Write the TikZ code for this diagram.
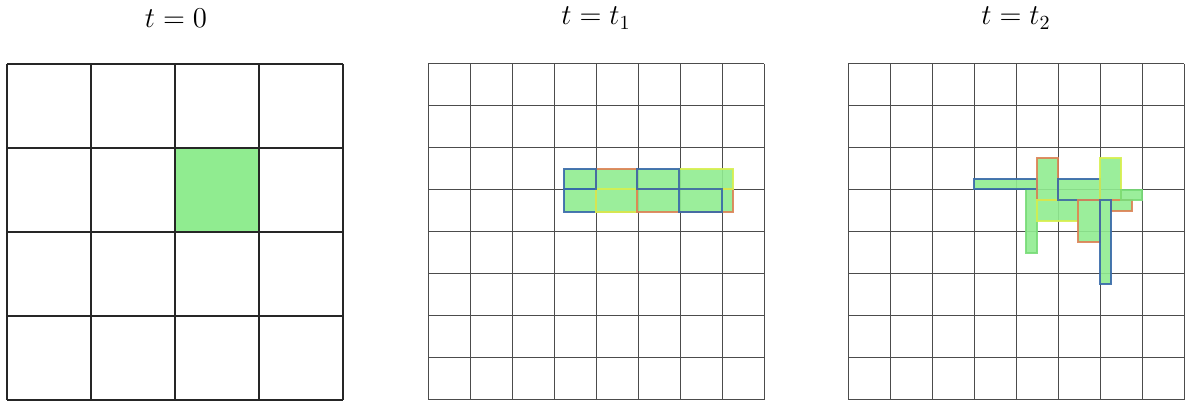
\documentclass[tikz,border=0pt]{standalone}
\usepackage{xcolor}
\usepackage{amsmath,amssymb}
\usepackage{tikz}

\definecolor{cellgreen}{RGB}{144,236,144}
\definecolor{edgeblue}{RGB}{55,105,170}
\definecolor{edgeorange}{RGB}{220,130,85}
\definecolor{edgeyellow}{RGB}{215,240,80}
\definecolor{edgegreen}{RGB}{120,220,120}

\begin{document}
\begin{tikzpicture}[x=0.5pt,y=-0.5pt,
      ttl/.style={font=\Large,anchor=center},
      coarse/.style={line width=0.75pt,black!85},
      fine/.style={line width=0.5pt,black!70},
      blob/.style={fill=cellgreen,fill opacity=0.9},
      rim/.style={line width=0.65pt,draw opacity=0.9}]
    \useasboundingbox (0,0) rectangle (1195,410);
    % titles
    \node[ttl] (title0) at (176,18) {$t=0$};
    \node[ttl] (title1) at (596,18) {$t=t_1$};
    \node[ttl] (title2) at (1016,18) {$t=t_2$};
    % t = 0
    \fill[cellgreen] (176,148) rectangle (260,232);
    \foreach \i in {0,...,4} {
      \draw[coarse] (7+84*\i,64) -- (7+84*\i,400);
      \draw[coarse] (7,64+84*\i) -- (343,64+84*\i);
    }
    % t = t_1 and t = t_2
    \foreach \gx in {428,848} {
      \foreach \i in {0,...,8} {
        \draw[fine] (\gx+42*\i,64) -- (\gx+42*\i,400);
        \draw[fine] (\gx,64+42*\i) -- (\gx+336,64+42*\i);
      }
    }
    \fill[blob] \foreach \ax/\ay/\bx/\by in {564/169/733/212,
        974/179/1037/189,1026/189/1037/253,1037/158/1058/200,1037/200/1078/221,
        1058/179/1100/200,1078/200/1100/242,1100/158/1121/200,1111/200/1132/211,
        1121/190/1142/200,1100/200/1111/284} {(\ax,\ay) rectangle (\bx,\by)};
    \foreach \c/\ax/\ay/\bx/\by in {edgeblue/564/189/596/212,edgeorange/596/169/637/212,
        edgeyellow/596/189/637/212,edgeblue/564/169/596/189,edgeorange/637/189/733/212,
        edgeyellow/679/169/733/189,edgeblue/637/169/679/189,edgeblue/679/189/722/212} {
      \draw[rim,draw=\c] (\ax,\ay) rectangle (\bx,\by);
    }
    \foreach \c/\ax/\ay/\bx/\by in {edgegreen/1026/189/1037/253,edgeblue/974/179/1037/189,
        edgeorange/1037/158/1058/200,edgeyellow/1037/200/1078/221,edgeblue/1058/179/1100/200,
        edgeorange/1078/200/1100/242,edgeyellow/1100/158/1121/200,edgeorange/1111/200/1132/211,
        edgegreen/1121/190/1142/200,edgeblue/1100/200/1111/284} {
      \draw[rim,draw=\c] (\ax,\ay) rectangle (\bx,\by);
    }
  \end{tikzpicture}
\end{document}
